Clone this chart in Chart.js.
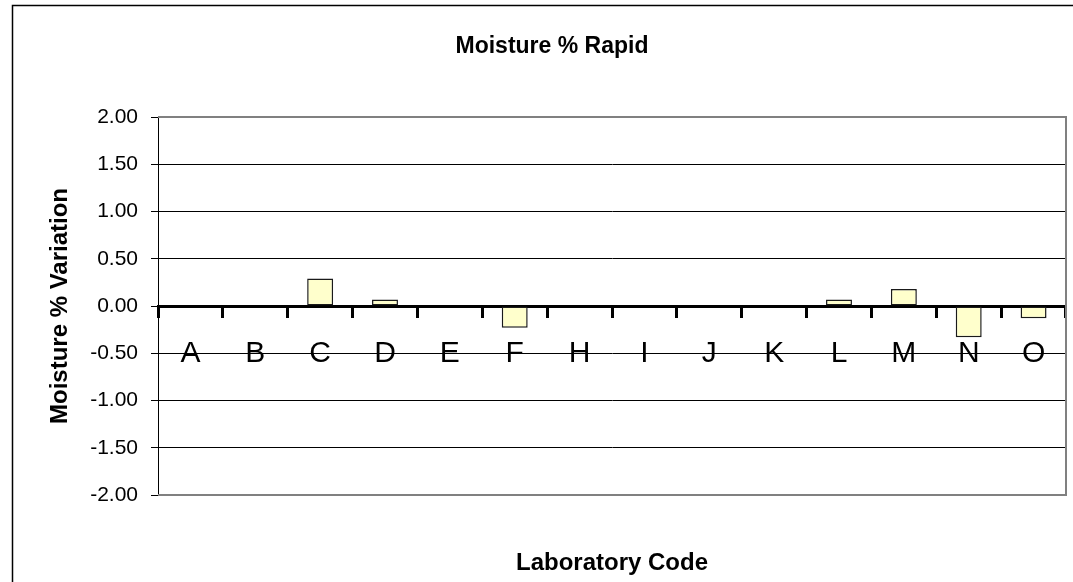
<!DOCTYPE html>
<html lang="en">

<head>
    <meta charset="UTF-8">
    <title>Moisture % Rapid</title>
    <style>
        html, body { margin: 0; padding: 0; background: #ffffff; }
        #chart-wrap { width: 1073px; height: 582px; }
    </style>
</head>

<body>
    <div id="chart-wrap">
        <canvas id="moisture-graph"></canvas>
    </div>

    <script src="https://cdn.jsdelivr.net/npm/chart.js"></script>
    <script>
        // values
        const labCodes = ['A', 'B', 'C', 'D', 'E', 'F', 'H', 'I', 'J', 'K', 'L', 'M', 'N', 'O'];
        const variation = [0, 0, 0.29, 0.07, 0, -0.23, 0, 0, 0, 0, 0.07, 0.18, -0.33, -0.13];
        const yMin = -2;
        const yMax = 2;
        const yStep = 0.5;

        const fontFamily = '"Liberation Sans", Arial, Helvetica, sans-serif';

        // outer frame + grey plot border, like the Excel chart
        const framePlugin = {
            id: 'frame',
            beforeDraw(chart) {
                const c = chart.ctx;
                c.save();
                c.strokeStyle = '#000000';
                c.lineWidth = 1.5;
                c.strokeRect(12.5, 5.5, chart.width + 40, chart.height + 40);
                c.restore();
            },
            afterDraw(chart) {
                const a = chart.chartArea;
                const c = chart.ctx;
                c.save();
                c.strokeStyle = '#808080';
                c.lineWidth = 2;
                c.beginPath();
                c.moveTo(a.left, a.top);
                c.lineTo(a.right, a.top);
                c.lineTo(a.right, a.bottom);
                c.lineTo(a.left, a.bottom);
                c.stroke();
                c.restore();
            }
        };

        const ctx = document.getElementById('moisture-graph').getContext('2d');
        new Chart(ctx, {
            type: 'bar',
            data: {
                labels: labCodes,
                datasets: [{
                    label: 'Moisture % Variation',
                    data: variation,
                    backgroundColor: '#FFFFCC',
                    borderColor: '#1a1a1a',
                    borderWidth: 1.5,
                    borderSkipped: false,
                    categoryPercentage: 1,
                    barPercentage: 0.4
                }]
            },
            options: {
                responsive: true,
                maintainAspectRatio: false,
                animation: false,
                layout: { padding: { left: 38, right: 7, top: 0, bottom: 0 } },
                plugins: {
                    legend: { display: false },
                    tooltip: { enabled: false },
                    title: {
                        display: true,
                        text: 'Moisture % Rapid',
                        color: '#000000',
                        font: { family: fontFamily, size: 23, weight: 'bold' },
                        padding: { top: 33, bottom: 56.4 }
                    }
                },
                scales: {
                    x: {
                        position: { y: 0 },
                        offset: true,
                        grid: {
                            offset: true,
                            drawOnChartArea: false,
                            drawTicks: true,
                            tickLength: 10,
                            tickWidth: 3,
                            tickColor: '#000000'
                        },
                        border: { display: true, color: '#000000', width: 3 },
                        ticks: {
                            color: '#000000',
                            padding: 20,
                            maxRotation: 0,
                            autoSkip: false,
                            font: { family: fontFamily, size: 30 }
                        }
                    },
                    x2: {
                        axis: 'x',
                        type: 'category',
                        position: 'bottom',
                        labels: labCodes,
                        grid: { display: false, drawTicks: false },
                        border: { display: false },
                        ticks: { display: false },
                        title: {
                            display: true,
                            text: 'Laboratory Code',
                            color: '#000000',
                            font: { family: fontFamily, size: 24, weight: 'bold' },
                            padding: { top: 54, bottom: 4 }
                        },
                        afterFit(scale) { scale.height = 87; }
                    },
                    y: {
                        min: yMin,
                        max: yMax,
                        grid: {
                            color: (c) => (c.tick && (c.tick.value === yMin || c.tick.value === yMax)) ? '#808080' : '#000000',
                            lineWidth: 1,
                            tickLength: 7,
                            tickColor: '#000000'
                        },
                        border: { display: true, color: '#000000', width: 1 },
                        ticks: {
                            stepSize: yStep,
                            color: '#000000',
                            padding: 13,
                            font: { family: fontFamily, size: 21 },
                            callback: (v) => Number(v).toFixed(2)
                        },
                        title: {
                            display: true,
                            text: 'Moisture % Variation',
                            color: '#000000',
                            font: { family: fontFamily, size: 24, weight: 'bold' },
                            padding: { top: 8, bottom: 0 }
                        },
                        afterFit(scale) { scale.width = 120; }
                    }
                }
            },
            plugins: [framePlugin]
        });
    </script>
</body>

</html>
